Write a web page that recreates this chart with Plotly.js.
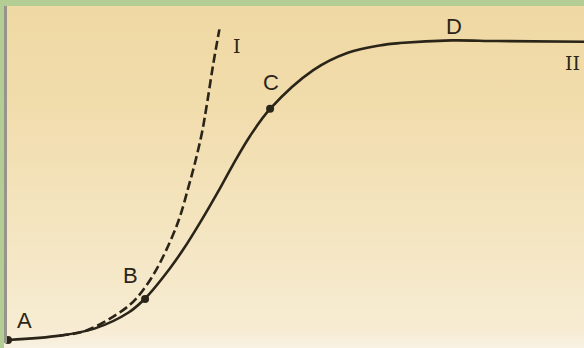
<!DOCTYPE html>
<html>
<head>
<meta charset="utf-8">
<script src="https://cdn.plot.ly/plotly-3.0.1.min.js"></script>
<style>
  html, body { margin: 0; padding: 0; }
  body {
    width: 584px; height: 348px; overflow: hidden;
    background:
      linear-gradient(#b4cd95, #b4cd95) top left / 100% 6px no-repeat,
      linear-gradient(#b4cd95, #b4cd95) top left / 4px 100% no-repeat,
      linear-gradient(to bottom, #efd8a2 0%, #f1dcac 30%, #f4e5c0 65%, #f7ecd3 95%, #f9f2e3 100%);
  }
  #chart { width: 584px; height: 348px; }
</style>
</head>
<body>
<div id="chart"></div>
<script>
// Time (arbitrary units) and population size (arbitrary units)
const timeII = [0, 9, 15, 21, 24, 28, 30.5, 33.5, 36.5, 39, 42, 45.5, 53, 59, 64.5, 68, 77, 85, 100];
const popII  = [0, 1.3, 3.4, 8.3, 12.8, 21.2, 27.3, 35.6, 44.5, 52.3, 61, 69.2, 80.8, 86, 88.2, 88.9, 89.7, 89.5, 89.3];

const timeI = [9, 13.4, 17.7, 21.2, 23.3, 25.9, 28.65, 29.9, 31.25, 32.5, 33.7, 34.6, 35.6, 36.7];
const popI  = [1.3, 2.7, 6.4, 10.6, 14.6, 21.5, 31.5, 37.2, 45.3, 53.3, 62.3, 71.3, 82.3, 93];

const pointTime = [0, 23.8, 45.5];
const pointPop  = [0, 12.3, 69.2];

const pointLabels = ["A", "B", "C", "D"];
const curveLabels = ["I", "II"];

const ink = "#2b2519";

const traces = [
  {
    x: timeI, y: popI, mode: "lines", type: "scatter",
    line: { color: ink, width: 2.6, dash: "9px,4px", shape: "spline", smoothing: 1 },
    hoverinfo: "skip"
  },
  {
    x: timeII, y: popII, mode: "lines", type: "scatter",
    line: { color: ink, width: 2.6, shape: "spline", smoothing: 1 },
    hoverinfo: "skip"
  },
  {
    x: pointTime, y: pointPop, mode: "markers", type: "scatter",
    marker: { color: ink, size: 8 },
    cliponaxis: false,
    hoverinfo: "skip"
  }
];

const sans = { family: "Liberation Sans, Arial, sans-serif", size: 22, color: ink };
const serif = { family: "DejaVu Serif, serif", size: 19, color: ink };

const annPos = [
  [2.95, 5.7], [21.2, 19.2], [45.7, 77.0], [77.4, 94.0]
];
const annotations = pointLabels.map((t, i) => ({
  x: annPos[i][0], y: annPos[i][1], text: t, showarrow: false,
  xanchor: "center", yanchor: "middle", font: sans
}));
annotations.push({ x: 39.8, y: 88.0, text: curveLabels[0], showarrow: false,
  xanchor: "center", yanchor: "middle", font: serif });
annotations.push({ x: 96.4, y: 82.9, text: curveLabels[1], showarrow: false,
  xanchor: "left", yanchor: "middle", font: serif });

const layout = {
  width: 584, height: 348,
  margin: { l: 7, r: 0, t: 6, b: 5, pad: 0 },
  paper_bgcolor: "rgba(0,0,0,0)",
  plot_bgcolor: "rgba(0,0,0,0)",
  showlegend: false,
  xaxis: {
    range: [-0.1736, 100], showgrid: false, zeroline: false,
    showticklabels: false, ticks: "", showline: false, fixedrange: true
  },
  yaxis: {
    range: [-0.898, 100], showgrid: false, zeroline: false,
    showticklabels: false, ticks: "", showline: true,
    linecolor: "#97948a", linewidth: 3, fixedrange: true
  },
  annotations: annotations
};

Plotly.newPlot("chart", traces, layout, { displayModeBar: false, staticPlot: true });
</script>
</body>
</html>
